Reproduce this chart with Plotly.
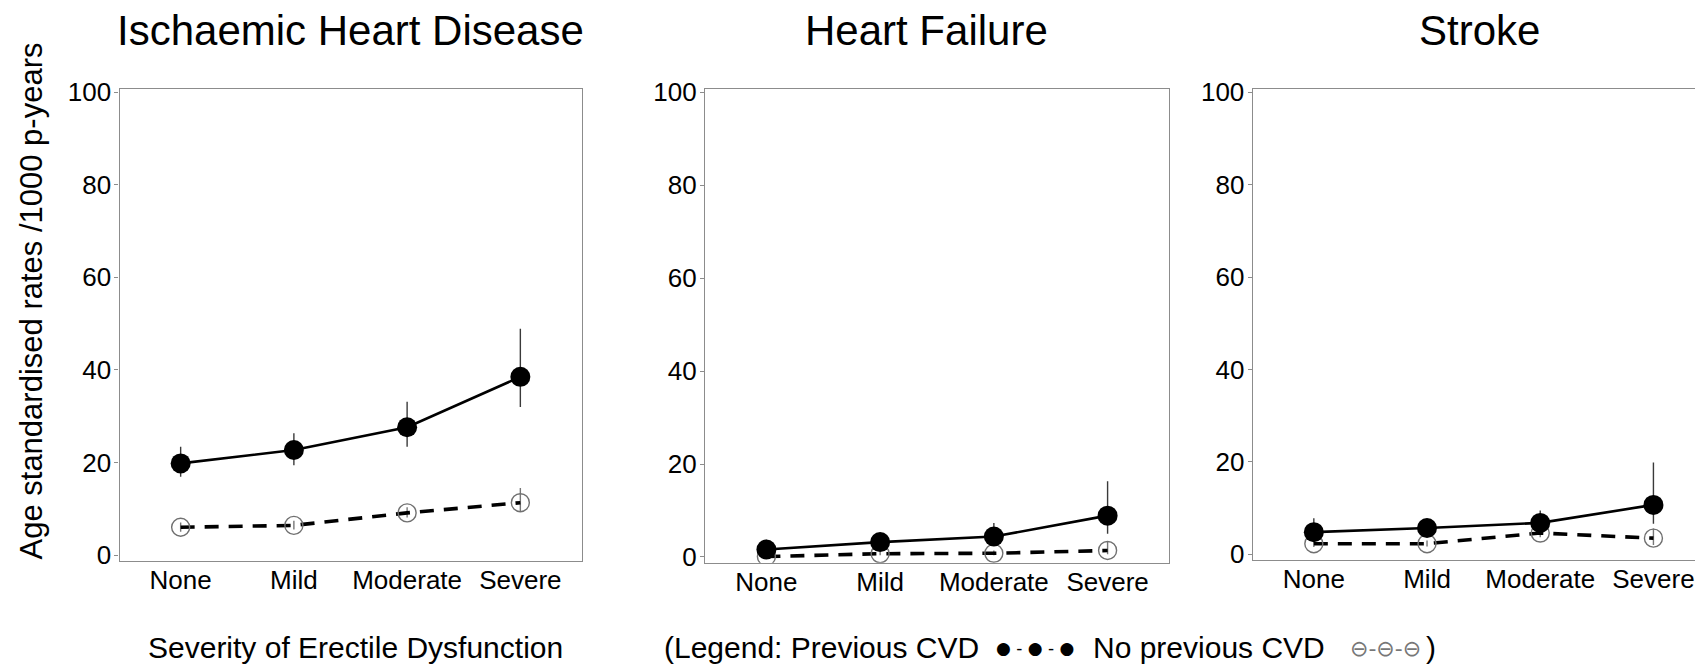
import plotly.graph_objects as go

# ---------------- data ----------------
categories = ["None", "Mild", "Moderate", "Severe"]
panel_titles = ["Ischaemic Heart Disease", "Heart Failure", "Stroke"]
y_ticks = [0, 20, 40, 60, 80, 100]

# Ischaemic Heart Disease
ihd_prev = [19.8, 22.7, 27.6, 38.5]
ihd_prev_hi = [23.4, 26.3, 33.1, 48.9]
ihd_prev_lo = [16.9, 19.4, 23.4, 32.0]
ihd_noprev = [6.0, 6.4, 9.1, 11.3]
ihd_noprev_hi = [7.0, 7.4, 10.3, 14.5]
ihd_noprev_lo = [5.0, 5.5, 8.1, 9.4]

# Heart Failure
hf_prev = [1.6, 3.2, 4.4, 8.9]
hf_prev_hi = [3.7, 4.6, 7.3, 16.3]
hf_prev_lo = [0.5, 2.0, 2.6, 5.0]
hf_noprev = [0.1, 0.7, 0.8, 1.4]
hf_noprev_hi = [0.6, 1.2, 1.4, 3.4]
hf_noprev_lo = [0.0, 0.4, 0.4, 0.6]

# Stroke
st_prev = [4.8, 5.7, 6.8, 10.7]
st_prev_hi = [7.8, 7.0, 9.5, 19.9]
st_prev_lo = [2.9, 4.5, 4.9, 6.6]
st_noprev = [2.3, 2.3, 4.6, 3.5]
st_noprev_hi = [3.2, 3.0, 5.6, 5.6]
st_noprev_lo = [1.6, 1.7, 3.7, 2.0]

y_title = "Age standardised rates /1000 p-years"
x_title = "Severity of Erectile Dysfunction"

# ---------------- figure ----------------
W, H = 1695, 664
FONT = "Liberation Sans, Arial, Helvetica, sans-serif"

def px_x(p):
    return p / W

def px_y(p):
    return 1 - p / H

panels = [
    (ihd_prev, ihd_prev_hi, ihd_prev_lo, ihd_noprev, ihd_noprev_hi, ihd_noprev_lo),
    (hf_prev, hf_prev_hi, hf_prev_lo, hf_noprev, hf_noprev_hi, hf_noprev_lo),
    (st_prev, st_prev_hi, st_prev_lo, st_noprev, st_noprev_hi, st_noprev_lo),
]

# plot-area geometry (pixels)
x_dom_px = [(119.5, 581.5), (705.0, 1169.0), (1252.7, 1695.0)]
y_dom_px = [(89.3, 560.7), (89.3, 562.7), (89.3, 560.0)]
x_ranges = [[-0.54, 3.54], [-0.54, 3.54], [-0.54, -0.54 + (1695 - 1252.7) / 113.2]]
y_range = [-1.23, 100.65]

fig = go.Figure()

for i, (p, p_hi, p_lo, n, n_hi, n_lo) in enumerate(panels):
    xa = "x" if i == 0 else f"x{i + 1}"
    ya = "y" if i == 0 else f"y{i + 1}"
    # No previous CVD (open circles, dashed)
    fig.add_trace(go.Scatter(
        x=categories, y=n, xaxis=xa, yaxis=ya, mode="lines+markers",
        line=dict(color="black", width=3.6, dash="14px,10px"),
        marker=dict(symbol="circle-open", size=18, color="#707070",
                    line=dict(width=1.4)),
        error_y=dict(type="data", symmetric=False,
                     array=[h - v for h, v in zip(n_hi, n)],
                     arrayminus=[v - l for v, l in zip(n, n_lo)],
                     color="#777777", thickness=1.4, width=0),
        showlegend=False, name="No previous CVD",
    ))
    # Previous CVD (filled circles, solid)
    fig.add_trace(go.Scatter(
        x=categories, y=p, xaxis=xa, yaxis=ya, mode="lines+markers",
        line=dict(color="black", width=2.6),
        marker=dict(symbol="circle", size=20, color="black"),
        error_y=dict(type="data", symmetric=False,
                     array=[h - v for h, v in zip(p_hi, p)],
                     arrayminus=[v - l for v, l in zip(p, p_lo)],
                     color="#3a3a3a", thickness=1.4, width=0),
        showlegend=False, name="Previous CVD",
    ))

layout = dict(
    width=W, height=H,
    margin=dict(l=0, r=0, t=0, b=0, pad=0, autoexpand=False),
    paper_bgcolor="white", plot_bgcolor="white",
    font=dict(family=FONT, color="black"),
    showlegend=False,
)

for i in range(3):
    sx = "" if i == 0 else str(i + 1)
    layout["xaxis" + sx] = dict(
        domain=[px_x(x_dom_px[i][0]), px_x(x_dom_px[i][1])],
        range=x_ranges[i], type="category",
        anchor="y" + sx, automargin=False,
        showline=True, linecolor="#8c8c8c", linewidth=1.3, mirror=True,
        ticks="", showgrid=False, zeroline=False,
        ticklabelstandoff=-4,
        tickfont=dict(size=26, color="black", family=FONT),
        fixedrange=True,
    )
    layout["yaxis" + sx] = dict(
        domain=[px_y(y_dom_px[i][1]), px_y(y_dom_px[i][0])],
        range=y_range, anchor="x" + sx, automargin=False,
        tickvals=y_ticks, ticktext=[str(t) for t in y_ticks],
        ticks="outside", ticklen=4, tickcolor="#8c8c8c", tickwidth=1.3,
        ticklabelstandoff=-2,
        showline=True, linecolor="#8c8c8c", linewidth=1.3,
        mirror=(i != 2),
        showgrid=False, zeroline=False,
        tickfont=dict(size=26, color="black", family=FONT),
        fixedrange=True,
    )

fig.update_layout(**layout)

annotations = []
title_centers = [350, 926, 1479]
for t, cx in zip(panel_titles, title_centers):
    annotations.append(dict(
        text=t, x=px_x(cx), y=px_y(30.5), xref="paper", yref="paper",
        xanchor="center", yanchor="middle", showarrow=False,
        font=dict(size=42, color="black", family=FONT)))

annotations.append(dict(
    text=y_title, x=px_x(31), y=px_y(301.5), xref="paper", yref="paper",
    xanchor="center", yanchor="middle", textangle=-90, showarrow=False,
    font=dict(size=31, color="black", family=FONT)))

annotations.append(dict(
    text=x_title, x=px_x(146), y=px_y(647), xref="paper", yref="paper",
    xanchor="left", yanchor="middle", showarrow=False,
    font=dict(size=30, color="black", family=FONT)))

annotations.append(dict(
    text="(Legend: Previous CVD", x=px_x(662), y=px_y(647), xref="paper", yref="paper",
    xanchor="left", yanchor="middle", showarrow=False,
    font=dict(size=30, color="black", family=FONT)))
annotations.append(dict(
    text="\u25cf - \u25cf - \u25cf", x=px_x(1035), y=px_y(648), xref="paper", yref="paper",
    xanchor="center", yanchor="middle", showarrow=False,
    font=dict(size=17, color="black", family="DejaVu Sans")))
annotations.append(dict(
    text="No previous CVD", x=px_x(1091), y=px_y(647), xref="paper", yref="paper",
    xanchor="left", yanchor="middle", showarrow=False,
    font=dict(size=30, color="black", family=FONT)))
annotations.append(dict(
    text="\u2296-\u2296-\u2296", x=px_x(1385), y=px_y(648), xref="paper", yref="paper",
    xanchor="center", yanchor="middle", showarrow=False,
    font=dict(size=22, color="#777777", family="DejaVu Sans")))
annotations.append(dict(
    text=")", x=px_x(1424), y=px_y(647), xref="paper", yref="paper",
    xanchor="left", yanchor="middle", showarrow=False,
    font=dict(size=30, color="black", family=FONT)))

fig.update_layout(annotations=annotations)

fig.write_html("out.html", config={"displayModeBar": False})
